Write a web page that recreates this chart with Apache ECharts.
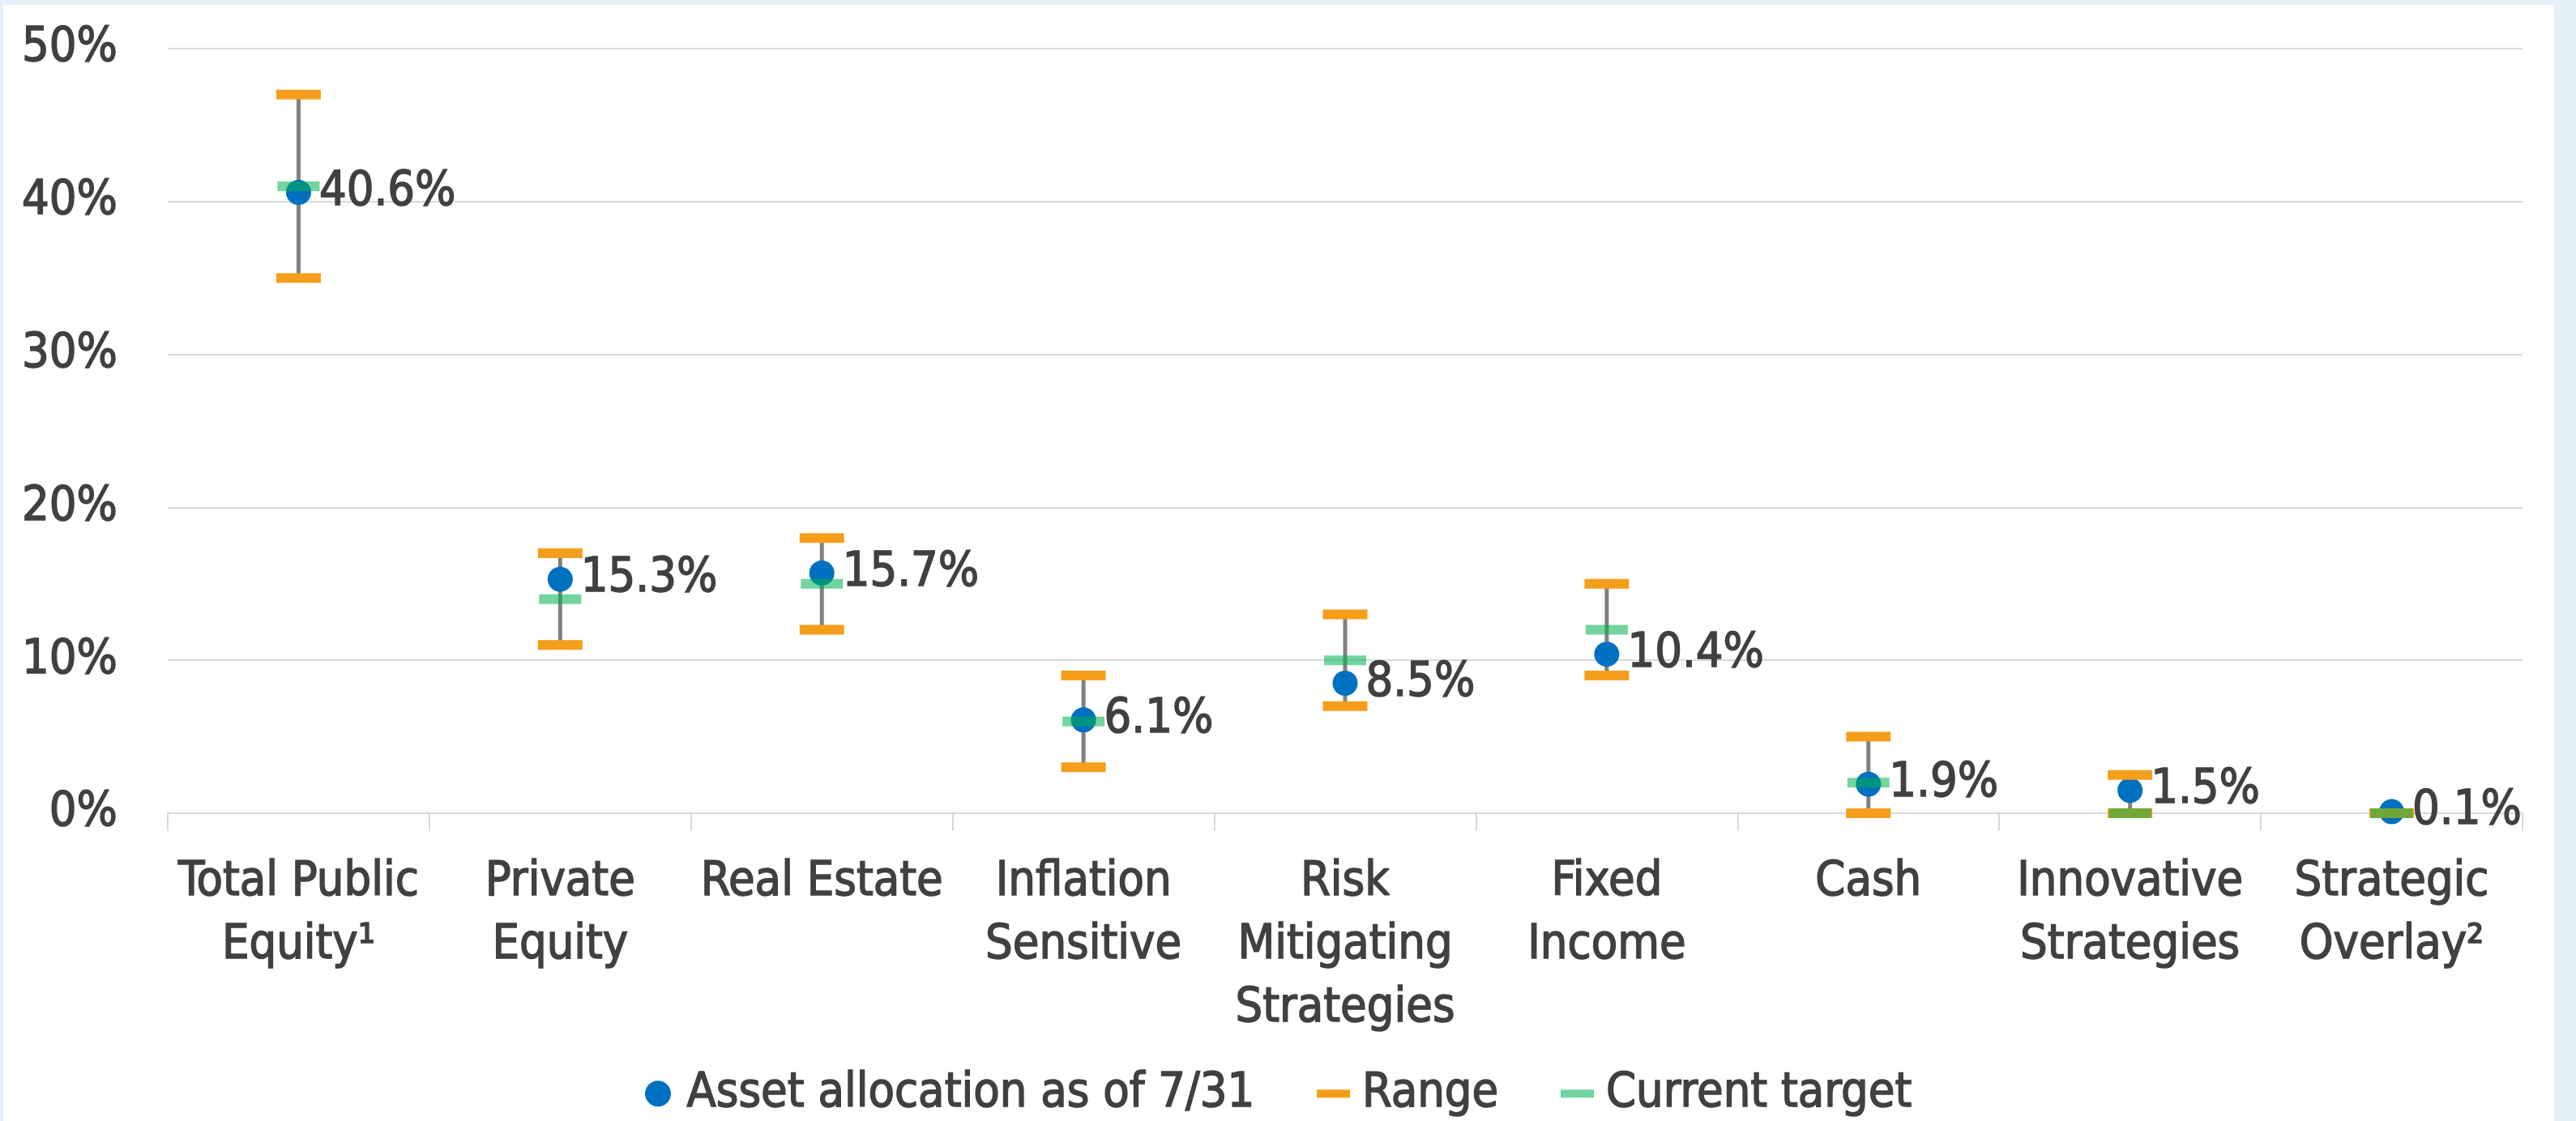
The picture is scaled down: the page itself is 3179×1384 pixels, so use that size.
<!DOCTYPE html>
<html>
<head>
<meta charset="utf-8">
<script src="https://cdn.jsdelivr.net/npm/echarts@6/dist/echarts.min.js"></script>
<style>
  html, body { margin: 0; padding: 0; width: 3179px; height: 1384px; background: #e4f0f7; overflow: hidden; }
  #chart { position: absolute; left: 4px; top: 6px; width: 3148px; height: 1378px; background: #ffffff; }
</style>
</head>
<body>
<div id="chart"></div>
<script>
const categories = [
  'Total Public\nEquity\u00b9', 'Private\nEquity', 'Real Estate', 'Inflation\nSensitive',
  'Risk\nMitigating\nStrategies', 'Fixed\nIncome', 'Cash', 'Innovative\nStrategies', 'Strategic\nOverlay\u00b2'
];
const assetAllocation = [40.6, 15.3, 15.7, 6.1, 8.5, 10.4, 1.9, 1.5, 0.1];
const rangeLow  = [35, 11, 12, 3, 7, 9, 0, 0, 0];
const rangeHigh = [47, 17, 18, 9, 13, 15, 5, 2.5, 0];
const currentTarget = [41, 14, 15, 6, 10, 12, 2, 0, 0];
const yTicks = { min: 0, max: 50, interval: 10 };

const FONT = '"DejaVu Sans Condensed", "Liberation Sans Narrow", "DejaVu Sans", sans-serif';
const TXT = '#404040';
const FS = 59;
const TB = { textBorderColor: TXT, textBorderWidth: 1.5 };

const whiskerData = categories.map((c, i) => [i, rangeLow[i], rangeHigh[i]]);
const rangeData = [];
categories.forEach((c, i) => { rangeData.push([i, rangeLow[i]]); rangeData.push([i, rangeHigh[i]]); });
const targetData = categories.map((c, i) => [i, currentTarget[i]]);
const assetData = categories.map((c, i) => [i, assetAllocation[i]]);

const chart = echarts.init(document.getElementById('chart'), null, { renderer: 'canvas' });
chart.setOption({
  animation: false,
  backgroundColor: '#ffffff',
  textStyle: { fontFamily: FONT, color: TXT },
  grid: { left: 203, right: 39, top: 54, bottom: 380, containLabel: false, outerBoundsMode: 'none' },
  legend: {
    data: [
      { name: 'Asset allocation as of 7/31', icon: 'circle' },
      { name: 'Range', icon: 'path://M0,0L0,0M61,32L61,32M10,11H51V21H10Z' },
      { name: 'Current target', icon: 'path://M0,0L0,0M61,32L61,32M10,11H51V21H10Z' }
    ],
    left: 'center',
    top: 1314,
    padding: 0,
    itemWidth: 61,
    itemHeight: 32,
    itemGap: 66,
    symbolKeepAspect: true,
    selectedMode: false,
    textStyle: Object.assign({ fontFamily: FONT, fontSize: FS, color: TXT }, TB)
  },
  xAxis: {
    type: 'category',
    data: categories,
    boundaryGap: true,
    axisLine: { show: true, lineStyle: { color: '#d9d9d9', width: 2 } },
    axisTick: { show: true, length: 22, lineStyle: { color: '#d9d9d9', width: 2 } },
    axisLabel: Object.assign({ interval: 0, margin: 47, fontFamily: FONT, fontSize: FS, color: TXT, lineHeight: 78, align: 'center' }, TB),
    splitLine: { show: false }
  },
  yAxis: {
    type: 'value',
    min: yTicks.min, max: yTicks.max, interval: yTicks.interval,
    axisLine: { show: false },
    axisTick: { show: false },
    axisLabel: Object.assign({ margin: 62, fontFamily: FONT, fontSize: FS, color: TXT, formatter: '{value}%' }, TB),
    splitLine: { show: true, lineStyle: { color: '#d9d9d9', width: 2 } }
  },
  series: [
    {
      name: 'whisker',
      type: 'custom',
      z: 1,
      silent: true,
      data: whiskerData,
      encode: { x: 0, y: [1, 2] },
      renderItem: function (params, api) {
        const x = api.value(0);
        const lo = api.coord([x, api.value(1)]);
        const hi = api.coord([x, api.value(2)]);
        return {
          type: 'line',
          shape: { x1: lo[0], y1: lo[1], x2: hi[0], y2: hi[1] },
          style: { stroke: '#808080', lineWidth: 5 }
        };
      }
    },
    {
      name: 'Asset allocation as of 7/31',
      type: 'scatter',
      z: 2,
      symbol: 'circle',
      symbolSize: 31,
      itemStyle: { color: '#0070c0', opacity: 1 },
      data: assetData,
      label: Object.assign({
        show: true,
        position: 'right',
        distance: 10,
        fontFamily: FONT,
        fontSize: FS,
        color: TXT,
        formatter: function (p) { return p.value[1].toFixed(1) + '%'; }
      }, TB)
    },
    {
      name: 'Range',
      type: 'scatter',
      z: 3,
      symbol: 'rect',
      symbolSize: [55, 12],
      itemStyle: { color: '#f59e1c', opacity: 1 },
      data: rangeData
    },
    {
      name: 'Current target',
      type: 'scatter',
      z: 4,
      symbol: 'rect',
      symbolSize: [52, 12],
      itemStyle: { color: 'rgba(0,176,80,0.55)', opacity: 1 },
      data: targetData
    }
  ]
});
</script>
</body>
</html>
